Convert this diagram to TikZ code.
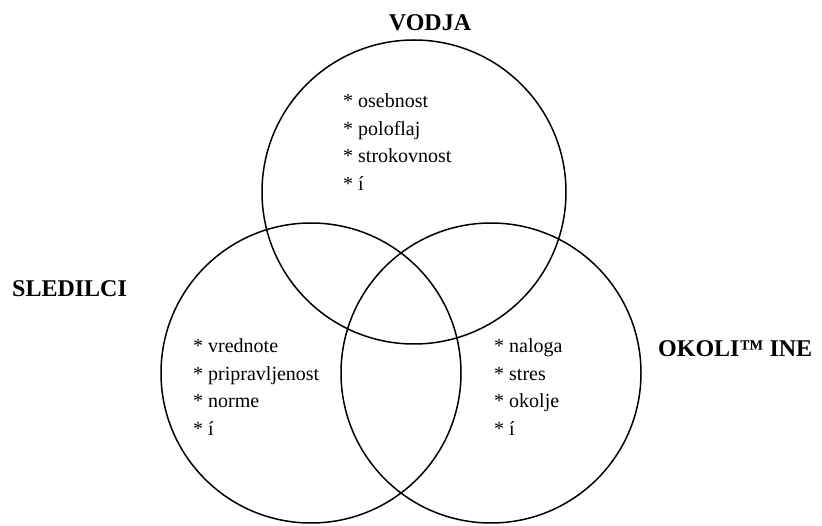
\documentclass[tikz,border=0pt]{standalone}
\usepackage{fontspec}
\setmainfont{Liberation Serif}
\usepackage{tikz}

\begin{document}
\begin{tikzpicture}[x=1pt,y=1pt,
    ring/.style={line width=1.5pt},
    item/.style={anchor=base west, inner sep=0pt, font=\fontsize{20}{24}\selectfont},
    title/.style={inner sep=0pt, font=\fontsize{24}{29}\selectfont\bfseries}]
        \useasboundingbox (0,0) rectangle (822,525);
        \coordinate (V) at (414,333);
        \coordinate (S) at (311,152);
        \coordinate (O) at (491,152);

        % krogi
        \draw[ring] (V) circle (152);
        \draw[ring] (S) circle (150);
        \draw[ring] (O) circle (150);

        \node[title, anchor=base] (vodja) at (430,494) {VODJA};
        \node[title, anchor=base west] (sledilci) at (12,228) {SLEDILCI};
        \node[title, anchor=base west] (okoli) at (658,168) {OKOLI™ INE};

        \foreach \t [count=\i] in {osebnost, poloflaj, strokovnost, í}
            \node[item] (v\i) at (343,417-27.5*\i+27.5) {* \t};
        \foreach \t [count=\i] in {vrednote, pripravljenost, norme, í}
            \node[item] (s\i) at (193,172-27.5*\i+27.5) {* \t};
        \foreach \t [count=\i] in {naloga, stres, okolje, í}
            \node[item] (o\i) at (494,172-27.5*\i+27.5) {* \t};

    \end{tikzpicture}
\end{document}
